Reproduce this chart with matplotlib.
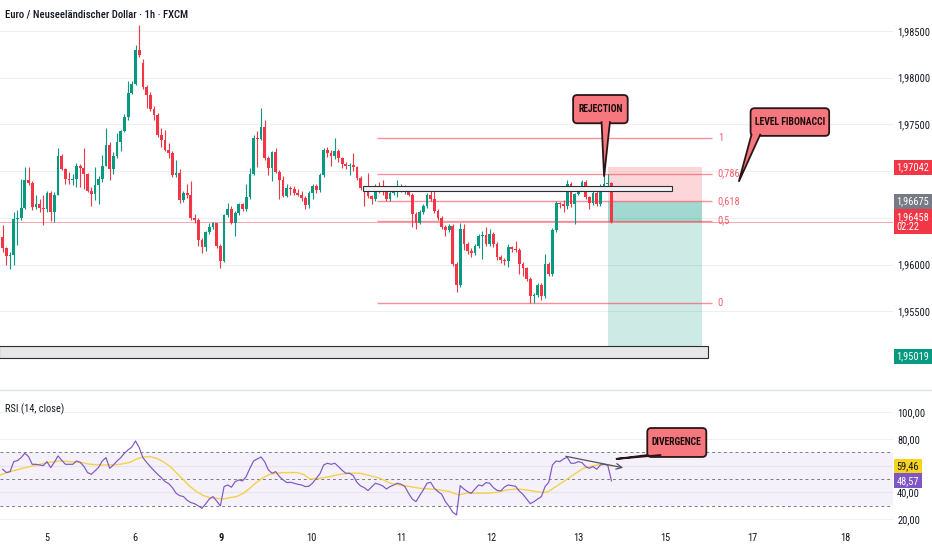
import numpy as np
import matplotlib
matplotlib.use('Agg')
import matplotlib.pyplot as plt
from matplotlib import font_manager
from matplotlib.patches import Rectangle, FancyBboxPatch, Polygon
from matplotlib.transforms import IdentityTransform
from matplotlib.lines import Line2D
from matplotlib.ticker import FuncFormatter

# pick a narrow font if there is one
fl = font_manager.fontManager.ttflist
names = {f.name for f in fl}
narrow = {f.name for f in fl if str(f.stretch) in ('condensed', 'semi-condensed', 'extra-condensed')}
FONT, STRETCH, FS = 'Roboto', 'normal', 6.6
for n in ['Liberation Sans Narrow', 'Roboto Condensed', 'Open Sans Condensed', 'Noto Sans Condensed']:
    if n in names:
        FONT, FS = n, 7.5
        break
else:
    for n in ['DejaVu Sans', 'Noto Sans', 'Roboto', 'Open Sans']:
        if n in narrow:
            FONT, STRETCH, FS = n, 'condensed', 7.2
            break
plt.rcParams['font.family'] = [FONT, 'DejaVu Sans']
plt.rcParams['font.stretch'] = STRETCH

# hourly candles EUR/NZD
opens = [
    1.9630, 1.9618, 1.9609, 1.9610, 1.9649, 1.9650, 1.9661, 1.9691, 1.9687, 1.9662,
    1.9665, 1.9661, 1.9660, 1.9677, 1.9656, 1.9675, 1.9716, 1.9702, 1.9692, 1.9691,
    1.9692, 1.9706, 1.9703, 1.9697, 1.9679, 1.9676, 1.9685, 1.9692, 1.9706, 1.9728,
    1.9702, 1.9716, 1.9731, 1.9743, 1.9758, 1.9784, 1.9793, 1.9830, 1.9816, 1.9790,
    1.9781, 1.9766, 1.9760, 1.9739, 1.9733, 1.9723, 1.9719, 1.9696, 1.9698, 1.9669,
    1.9677, 1.9674, 1.9650, 1.9648, 1.9626, 1.9619, 1.9635, 1.9640, 1.9644, 1.9620,
    1.9604, 1.9653, 1.9659, 1.9645, 1.9655, 1.9665, 1.9660, 1.9672, 1.9697, 1.9735,
    1.9734, 1.9747, 1.9714, 1.9703, 1.9720, 1.9699, 1.9691, 1.9673, 1.9682, 1.9681,
    1.9677, 1.9675, 1.9671, 1.9664, 1.9677, 1.9684, 1.9680, 1.9696, 1.9723, 1.9719,
    1.9716, 1.9722, 1.9714, 1.9708, 1.9705, 1.9707, 1.9704, 1.9693, 1.9682, 1.9680,
    1.9673, 1.9670, 1.9684, 1.9680, 1.9678, 1.9670, 1.9677, 1.9680, 1.9684, 1.9680,
    1.9682, 1.9675, 1.9654, 1.9645, 1.9656, 1.9663, 1.9675, 1.9670, 1.9657, 1.9650,
    1.9640, 1.9637, 1.9641, 1.9601, 1.9578, 1.9638, 1.9622, 1.9615, 1.9612, 1.9620,
    1.9631, 1.9632, 1.9622, 1.9633, 1.9622, 1.9608, 1.9605, 1.9604, 1.9619, 1.9617,
    1.9616, 1.9601, 1.9596, 1.9585, 1.9566, 1.9567, 1.9578, 1.9566, 1.9601, 1.9590,
    1.9637, 1.9666, 1.9665, 1.9663, 1.9686, 1.9665, 1.9676, 1.9681, 1.9688, 1.9672,
    1.9666, 1.9677, 1.9665, 1.9684, 1.9686, 1.9687]
highs = [
    1.9642, 1.9619, 1.9614, 1.9656, 1.9658, 1.9692, 1.9704, 1.9704, 1.9689, 1.9674,
    1.9670, 1.9674, 1.9679, 1.9679, 1.9678, 1.9725, 1.9718, 1.9703, 1.9699, 1.9697,
    1.9709, 1.9708, 1.9725, 1.9698, 1.9683, 1.9704, 1.9695, 1.9717, 1.9746, 1.9731,
    1.9720, 1.9741, 1.9744, 1.9761, 1.9796, 1.9796, 1.9835, 1.9856, 1.9820, 1.9792,
    1.9785, 1.9770, 1.9762, 1.9746, 1.9744, 1.9730, 1.9722, 1.9712, 1.9702, 1.9679,
    1.9686, 1.9689, 1.9654, 1.9650, 1.9629, 1.9636, 1.9645, 1.9646, 1.9645, 1.9622,
    1.9654, 1.9666, 1.9663, 1.9657, 1.9666, 1.9666, 1.9686, 1.9703, 1.9739, 1.9743,
    1.9768, 1.9755, 1.9716, 1.9721, 1.9725, 1.9701, 1.9695, 1.9686, 1.9684, 1.9684,
    1.9681, 1.9679, 1.9673, 1.9679, 1.9686, 1.9686, 1.9698, 1.9725, 1.9726, 1.9723,
    1.9735, 1.9724, 1.9715, 1.9710, 1.9709, 1.9719, 1.9706, 1.9695, 1.9684, 1.9698,
    1.9675, 1.9686, 1.9688, 1.9691, 1.9680, 1.9679, 1.9684, 1.9690, 1.9686, 1.9685,
    1.9684, 1.9677, 1.9656, 1.9658, 1.9665, 1.9677, 1.9682, 1.9682, 1.9659, 1.9652,
    1.9642, 1.9643, 1.9643, 1.9603, 1.9645, 1.9643, 1.9624, 1.9618, 1.9622, 1.9633,
    1.9636, 1.9640, 1.9638, 1.9635, 1.9624, 1.9610, 1.9607, 1.9622, 1.9620, 1.9625,
    1.9618, 1.9603, 1.9597, 1.9587, 1.9570, 1.9580, 1.9580, 1.9611, 1.9603, 1.9639,
    1.9668, 1.9667, 1.9669, 1.9690, 1.9688, 1.9677, 1.9683, 1.9691, 1.9690, 1.9673,
    1.9679, 1.9679, 1.9686, 1.9701, 1.9697, 1.9688]
lows = [
    1.9614, 1.9600, 1.9595, 1.9600, 1.9621, 1.9648, 1.9660, 1.9685, 1.9658, 1.9660,
    1.9656, 1.9642, 1.9656, 1.9647, 1.9646, 1.9674, 1.9701, 1.9686, 1.9686, 1.9685,
    1.9683, 1.9683, 1.9681, 1.9678, 1.9663, 1.9669, 1.9665, 1.9688, 1.9705, 1.9690,
    1.9697, 1.9714, 1.9722, 1.9742, 1.9755, 1.9782, 1.9792, 1.9822, 1.9788, 1.9768,
    1.9764, 1.9755, 1.9737, 1.9726, 1.9721, 1.9714, 1.9694, 1.9694, 1.9666, 1.9667,
    1.9671, 1.9648, 1.9644, 1.9620, 1.9612, 1.9615, 1.9633, 1.9638, 1.9618, 1.9596,
    1.9603, 1.9651, 1.9643, 1.9631, 1.9653, 1.9657, 1.9657, 1.9670, 1.9696, 1.9704,
    1.9733, 1.9712, 1.9696, 1.9689, 1.9698, 1.9670, 1.9672, 1.9672, 1.9675, 1.9674,
    1.9673, 1.9668, 1.9659, 1.9661, 1.9670, 1.9677, 1.9678, 1.9694, 1.9715, 1.9706,
    1.9713, 1.9710, 1.9703, 1.9702, 1.9696, 1.9700, 1.9690, 1.9680, 1.9663, 1.9671,
    1.9665, 1.9668, 1.9677, 1.9675, 1.9668, 1.9668, 1.9675, 1.9672, 1.9678, 1.9676,
    1.9673, 1.9640, 1.9638, 1.9643, 1.9654, 1.9661, 1.9668, 1.9655, 1.9648, 1.9638,
    1.9631, 1.9635, 1.9599, 1.9571, 1.9576, 1.9616, 1.9611, 1.9608, 1.9610, 1.9618,
    1.9606, 1.9620, 1.9620, 1.9619, 1.9605, 1.9602, 1.9600, 1.9598, 1.9614, 1.9613,
    1.9590, 1.9588, 1.9583, 1.9559, 1.9559, 1.9565, 1.9562, 1.9564, 1.9588, 1.9588,
    1.9635, 1.9661, 1.9656, 1.9660, 1.9662, 1.9643, 1.9674, 1.9679, 1.9670, 1.9659,
    1.9664, 1.9663, 1.9663, 1.9682, 1.9684, 1.9645]
closes = [
    1.9618, 1.9609, 1.9610, 1.9649, 1.9650, 1.9661, 1.9691, 1.9687, 1.9662, 1.9665,
    1.9661, 1.9660, 1.9677, 1.9656, 1.9675, 1.9716, 1.9702, 1.9692, 1.9691, 1.9692,
    1.9706, 1.9703, 1.9697, 1.9679, 1.9676, 1.9685, 1.9692, 1.9706, 1.9728, 1.9702,
    1.9716, 1.9731, 1.9743, 1.9758, 1.9784, 1.9793, 1.9830, 1.9824, 1.9790, 1.9781,
    1.9766, 1.9760, 1.9739, 1.9733, 1.9723, 1.9719, 1.9696, 1.9698, 1.9669, 1.9677,
    1.9674, 1.9650, 1.9648, 1.9626, 1.9619, 1.9635, 1.9640, 1.9644, 1.9620, 1.9604,
    1.9653, 1.9659, 1.9645, 1.9655, 1.9665, 1.9660, 1.9672, 1.9697, 1.9735, 1.9734,
    1.9747, 1.9714, 1.9703, 1.9720, 1.9699, 1.9691, 1.9673, 1.9682, 1.9681, 1.9677,
    1.9675, 1.9671, 1.9664, 1.9677, 1.9684, 1.9680, 1.9696, 1.9723, 1.9719, 1.9716,
    1.9722, 1.9714, 1.9708, 1.9705, 1.9707, 1.9704, 1.9693, 1.9682, 1.9680, 1.9673,
    1.9670, 1.9684, 1.9680, 1.9678, 1.9670, 1.9677, 1.9680, 1.9684, 1.9680, 1.9682,
    1.9675, 1.9654, 1.9645, 1.9656, 1.9663, 1.9675, 1.9670, 1.9657, 1.9650, 1.9640,
    1.9637, 1.9641, 1.9601, 1.9578, 1.9638, 1.9622, 1.9615, 1.9612, 1.9620, 1.9631,
    1.9632, 1.9622, 1.9633, 1.9622, 1.9608, 1.9605, 1.9604, 1.9619, 1.9617, 1.9616,
    1.9601, 1.9596, 1.9585, 1.9566, 1.9567, 1.9578, 1.9566, 1.9601, 1.9590, 1.9637,
    1.9666, 1.9665, 1.9663, 1.9686, 1.9665, 1.9676, 1.9681, 1.9688, 1.9672, 1.9666,
    1.9677, 1.9665, 1.9684, 1.9686, 1.9687, 1.96458]

# RSI(14) per candle and its moving average (read at fewer points)
rsi = [
    57.3, 54.8, 55.5, 63.0, 63.8, 66.0, 69.3, 66.8, 61.0, 61.0,
    60.5, 60.0, 63.0, 58.5, 62.5, 67.3, 64.0, 61.0, 61.0, 61.0,
    63.5, 62.5, 59.5, 54.8, 53.5, 56.0, 58.8, 63.5, 66.0, 58.0,
    60.5, 63.5, 66.0, 69.3, 71.8, 74.0, 78.5, 73.5, 66.0, 62.5,
    59.3, 56.3, 53.5, 51.0, 48.0, 46.5, 43.5, 39.3, 37.5, 36.8,
    34.0, 32.3, 31.5, 29.8, 28.0, 31.3, 35.0, 36.8, 33.5, 29.8,
    44.3, 45.5, 43.8, 48.0, 49.3, 48.5, 51.8, 58.0, 63.5, 65.0,
    66.5, 63.0, 56.8, 54.3, 55.5, 51.8, 49.3, 47.3, 47.5, 46.8,
    46.0, 45.5, 44.3, 44.5, 47.0, 50.5, 54.0, 60.5, 61.8, 61.0,
    61.8, 59.3, 56.5, 54.3, 54.3, 52.5, 47.5, 44.8, 43.5, 41.3,
    44.0, 46.8, 46.0, 44.8, 42.5, 44.3, 45.5, 46.8, 46.0, 44.3,
    39.3, 35.0, 33.0, 37.5, 41.8, 46.8, 47.5, 43.0, 40.5, 38.5,
    33.0, 29.3, 25.0, 23.0, 45.0, 42.5, 40.5, 39.3, 42.5, 45.5,
    44.8, 47.3, 46.8, 43.5, 41.5, 41.0, 44.0, 45.5, 45.0, 44.5,
    41.0, 38.5, 35.0, 31.5, 33.0, 35.0, 36.8, 44.3, 47.5, 60.5,
    63.5, 63.0, 65.0, 66.3, 61.8, 61.8, 63.0, 62.3, 59.3, 58.0,
    59.3, 57.3, 60.5, 61.0, 60.3, 48.57]
ma_x = [-0.7, 2.0, 4.7, 7.4, 10.1, 12.8, 15.5, 18.2, 20.9, 23.7,
        26.4, 29.1, 31.8, 34.5, 36.3, 38.1, 39.9, 41.7, 43.5, 45.4,
        47.2, 49.0, 50.8, 52.6, 54.4, 56.2, 58.0, 59.8, 61.6, 63.4,
        65.2, 67.0, 68.8, 70.6, 72.4, 74.3, 76.1, 77.9, 79.7, 81.5,
        83.3, 86.0, 88.7, 91.4, 94.1, 96.8, 99.5, 102.3, 105.0, 107.7,
        110.4, 113.1, 115.8, 118.5, 121.2, 123.5, 125.7, 128.5, 131.2, 133.9,
        136.6, 139.3, 142.0, 144.7, 146.5, 147.9, 149.2, 152.0, 154.6, 157.4,
        160.1, 162.3, 164.1, 165.0]
ma_v = [53, 55.5, 57.5, 59.3, 61, 62.5, 63.5, 63, 62.5, 61,
        60.5, 60.5, 61, 62.5, 65, 66.5, 66.8, 65.5, 63, 59.3,
        54.3, 49.3, 44.3, 40.5, 37.5, 36, 35.5, 35, 36, 36.8,
        39.3, 43, 47.5, 51, 53.5, 54.3, 54.8, 54.8, 54.8, 53.5,
        50, 50.5, 51.8, 53.5, 54.3, 54.3, 52.5, 50.5, 46.8, 45.5,
        44.3, 43, 42.5, 41.8, 40.5, 38, 39.3, 39.3, 39.3, 40,
        41.8, 42.5, 41.8, 40.5, 39.8, 40.5, 43, 48, 53, 58,
        60, 61, 60.5, 59.46]

day_pos = [12, 35.9, 59.3, 83.7, 107.9, 132.3, 156.1, 179.5, 203.1, 228.5]
day_lbl = ['5', '6', '9', '10', '11', '12', '13', '15', '17', '18']
price_grid = [1.955, 1.960, 1.965, 1.970, 1.975, 1.980, 1.985]
price_ticks = [1.955, 1.960, 1.975, 1.980, 1.985]   # the others sit under the tags
rsi_ticks = [20, 40, 80, 100]
rsi_grid = [20, 40, 60, 80, 100]

fib_high, fib_low = 1.9735, 1.9559
fib_levels = [1, 0.786, 0.618, 0.5, 0]
fib_text = ['1', '0,786', '0,618', '0,5', '0']
entry, stop, target, last = 1.96675, 1.97042, 1.95019, 1.96458

GREEN, RED = '#089981', '#f23645'
TXT = '#131722'
W, H = 932, 550

fig = plt.figure(figsize=(W / 100, H / 100), dpi=100)
fig.patch.set_facecolor('white')


def px_axes(x0, y0, x1, y1):
    return fig.add_axes([x0 / W, 1 - y1 / H, (x1 - x0) / W, (y1 - y0) / H])


ax = px_axes(0, 0, 893, 389)
rx = px_axes(0, 390, 893, 527)
for a in (ax, rx):
    a.set_xlim(-0.73, 241.3)
    for s in a.spines.values():
        s.set_visible(False)
    a.yaxis.tick_right()
ax.set_ylim(1.94670, 1.98830)
rx.set_ylim(14.0, 116.7)

# ---- price pane ----
ax.set_yticks(price_ticks)
ax.yaxis.set_major_formatter(FuncFormatter(lambda v, p: f'{v:.5f}'.replace('.', ',')))
ax.tick_params(axis='y', length=0, pad=3, labelsize=FS, labelcolor=TXT)
ax.set_xticks([])
for t in price_grid:
    ax.axhline(t, color='#eeeff2', lw=0.8, zorder=0)

o, h, l, c = map(np.array, (opens, highs, lows, closes))
idx = np.arange(len(c))
col = np.where(c >= o, GREEN, RED)
ax.vlines(idx, l, h, colors=col, lw=0.8, zorder=3)
ax.bar(idx, np.maximum(np.abs(c - o), 0.00005), bottom=np.minimum(o, c),
       width=0.75, color=col, lw=0, zorder=3)

ax.axhline(last, color=RED, lw=0.7, alpha=0.45, zorder=2)

# fib retracement
fib_prices = [fib_low + f * (fib_high - fib_low) for f in fib_levels]
ax.hlines(fib_prices, 101.5, 192.2, color=RED, alpha=0.55, lw=1.0, zorder=2)
for p, t in zip(fib_prices, fib_text):
    ax.text(193.8, p, t, color=RED, alpha=0.8, fontsize=FS, va='center', ha='left')

# rectangles
ax.add_patch(Rectangle((97.7, 1.9679), 83.6, 0.0005, fc='#f2f2f2', ec='#2a2e39',
                       lw=0.8, zorder=4))
ax.add_patch(Rectangle((-1, 1.94998), 192.1, 0.00135, fc='#e6e6e6', ec='#2a2e39',
                       lw=0.8, zorder=4))

# short position
ax.add_patch(Rectangle((164.1, entry), 25.3, stop - entry, fc=RED, alpha=0.2, lw=0, zorder=1))
ax.add_patch(Rectangle((164.1, target), 25.3, entry - target, fc=GREEN, alpha=0.2, lw=0, zorder=1))
ax.add_patch(Rectangle((164.1, last), 25.3, entry - last, fc=GREEN, alpha=0.22, lw=0, zorder=1))


def tag(a, y, text, bg, fg):
    a.annotate(text, xy=(1, y), xycoords=('axes fraction', 'data'), xytext=(2.5, 0),
               textcoords='offset points', ha='left', va='center', fontsize=FS,
               color=fg, linespacing=1.0, annotation_clip=False, zorder=10,
               bbox=dict(boxstyle='square,pad=0.25', fc=bg, ec='none'))


tag(ax, stop, '1,97042', RED, 'white')
tag(ax, entry, '1,96675', '#787b86', 'white')
tag(ax, last, '1,96458\n02:22', RED, 'white')
tag(ax, target, '1,95019', GREEN, 'white')

# ---- RSI pane ----
rx.set_yticks(rsi_ticks)
rx.yaxis.set_major_formatter(FuncFormatter(lambda v, p: f'{v:.2f}'.replace('.', ',')))
rx.tick_params(axis='y', length=0, pad=3, labelsize=FS, labelcolor=TXT)
for t in rsi_grid:
    rx.axhline(t, color='#f0f1f4', lw=0.8, zorder=0)
rx.axhspan(30, 70, color='#7e57c2', alpha=0.08, lw=0, zorder=0)
for lvl in (70, 50, 30):
    rx.axhline(lvl, color='#787b86', ls=(0, (3, 3)), lw=0.7, zorder=1)
rx.plot(idx, rsi, color='#7e57c2', lw=0.85, zorder=3)
rx.plot(ma_x, ma_v, color='#f5d24b', lw=1.0, zorder=2)
rx.annotate('', xy=(168.9, 58.0), xytext=(151.9, 67.4),
            arrowprops=dict(arrowstyle='->', color='#50535e', lw=0.9))
tag(rx, 59.46, '59,46', '#f7d21e', TXT)
tag(rx, 48.57, '48,57', '#7e57c2', 'white')

rx.set_xticks(day_pos)
rx.set_xticklabels(day_lbl)
rx.tick_params(axis='x', length=0, pad=4, labelsize=FS, labelcolor=TXT)
for lab in rx.get_xticklabels():
    if lab.get_text() == '9':
        lab.set_fontweight('bold')

fig.add_artist(Line2D([0, 1], [1 - 389.5 / H] * 2, color='#e0e3eb', lw=1))
fig.text(5 / W, 1 - 14 / H, 'Euro / Neuseeländischer Dollar · 1h · FXCM', fontsize=FS + 0.2,
         color=TXT, va='center', ha='left', fontweight='medium')
fig.text(5 / W, 1 - 409 / H, 'RSI (14, close)', fontsize=FS, color=TXT,
         va='center', ha='left')


# ---- callouts ----
def callout(a, x0, x1, y0, y1, b0, b1, tip, text):
    tr = a.transData
    (px0, py0), (px1, py1) = tr.transform([(x0, y0), (x1, y1)])
    box = FancyBboxPatch((px0, py0), px1 - px0, py1 - py0,
                         boxstyle='round,pad=0,rounding_size=4', fc='#f6777d',
                         ec='#2b1416', lw=1.3, transform=IdentityTransform(),
                         zorder=8, clip_on=False)
    a.add_artist(box)
    (bx0, _), (bx1, _) = tr.transform([(b0, y0), (b1, y0)])
    tx, ty = tr.transform([tip])[0]
    tail = Polygon([(bx0, py0 + 2), (tx, ty), (bx1, py0 + 2)], closed=False,
                   fc='#f6777d', ec='#2b1416', lw=1.3, transform=IdentityTransform(),
                   zorder=9, clip_on=False)
    a.add_artist(tail)
    a.text((x0 + x1) / 2, (y0 + y1) / 2, text, ha='center', va='center', fontsize=FS - 0.5,
           fontweight='bold', color='#1a0d0e', zorder=11, clip_on=False)


callout(ax, 154.6, 169.4, 1.97512, 1.97814, 162.3, 164.6, (163.0, 1.96941), 'REJECTION')
callout(ax, 202.7, 224.0, 1.97377, 1.97673, 203.0, 205.4, (199.5, 1.96887), 'LEVEL FIBONACCI')
callout(rx, 174.7, 190.7, 66.5, 88.2, 175.0, 178.5, (166.2, 65.0), 'DIVERGENCE')

fig.savefig('out.png', dpi=100, facecolor='white')
